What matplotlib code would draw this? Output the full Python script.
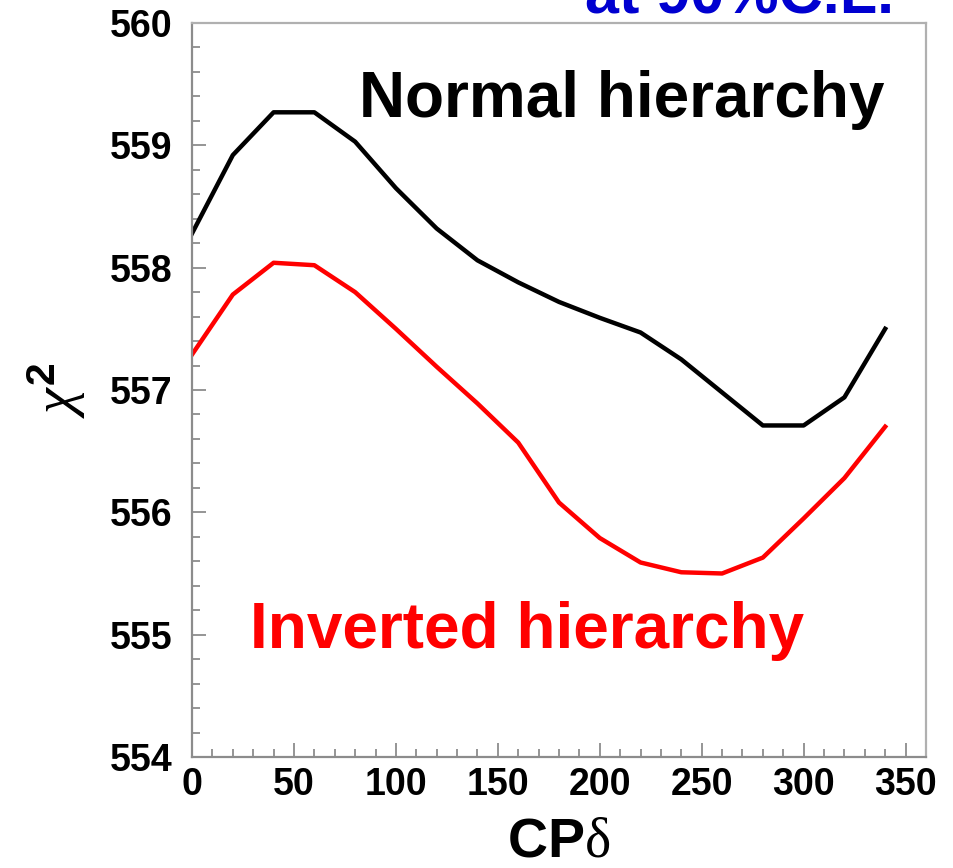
import numpy as np
import matplotlib
matplotlib.use("Agg")
import matplotlib.pyplot as plt
from matplotlib.ticker import MultipleLocator

plt.rcParams['font.family'] = ['Liberation Sans', 'DejaVu Sans']
plt.rcParams['mathtext.fontset'] = 'custom'
plt.rcParams['mathtext.rm'] = 'Liberation Serif'
plt.rcParams['mathtext.it'] = 'Liberation Serif:italic'
plt.rcParams['mathtext.bf'] = 'Liberation Sans:bold'

# CP phase (degrees)
cp_delta = [0, 20, 40, 60, 80, 100, 120, 140, 160, 180, 200, 220, 240, 260, 280, 300, 320, 340]

chi2_normal = [558.28, 558.92, 559.27, 559.27, 559.03, 558.65, 558.32, 558.06, 557.88,
               557.72, 557.59, 557.47, 557.25, 556.98, 556.71, 556.71, 556.94, 557.50]

chi2_inverted = [557.29, 557.78, 558.04, 558.02, 557.80, 557.50, 557.19, 556.89, 556.57,
                 556.08, 555.79, 555.59, 555.51, 555.50, 555.63, 555.95, 556.28, 556.70]

axis_gray = '#8c8c8c'

fig = plt.figure(figsize=(9.54, 8.68), dpi=100)
ax = fig.add_axes([0.2013, 0.1279, 0.7693, 0.8456])

ax.plot(cp_delta, chi2_normal, color='black', lw=3.2)
ax.plot(cp_delta, chi2_inverted, color='#ff0000', lw=3.2)

ax.set_xlim(0, 360)
ax.set_ylim(554, 560)
ax.xaxis.set_major_locator(MultipleLocator(50))
ax.xaxis.set_minor_locator(MultipleLocator(10))
ax.yaxis.set_major_locator(MultipleLocator(1))
ax.yaxis.set_minor_locator(MultipleLocator(0.2))

for s in ax.spines.values():
    s.set_color('#b0b0b0')
    s.set_linewidth(1.6)
ax.spines['left'].set_color(axis_gray)
ax.spines['bottom'].set_color(axis_gray)

ax.tick_params(which='both', direction='in', top=False, right=False, color=axis_gray, width=1.3)
ax.tick_params(which='major', length=10)
ax.tick_params(which='minor', length=6)
ax.tick_params(axis='x', which='major', pad=7, labelsize=27)
ax.tick_params(axis='y', which='major', pad=14, labelsize=27)
for lbl in ax.get_xticklabels() + ax.get_yticklabels():
    lbl.set_fontweight('bold')

ax.set_xlabel(r'$\mathbf{CP}\mathrm{\delta}$', fontsize=40, labelpad=10)
ax.set_ylabel(r'$\chi^{\mathbf{2}}$', fontsize=42, labelpad=16)

ax.text(0.585, 0.895, 'Normal hierarchy', transform=ax.transAxes, ha='center', va='center',
        fontsize=46, fontweight='bold', color='black')
ax.text(0.457, 0.172, 'Inverted hierarchy', transform=ax.transAxes, ha='center', va='center',
        fontsize=46, fontweight='bold', color='#ff0000')
fig.text(0.6132, 1 - 14 / 868, 'at 90%C.L.', ha='left', va='baseline',
         fontsize=44, fontweight='bold', color='#0000d0')

fig.savefig('out.png', dpi=100)
